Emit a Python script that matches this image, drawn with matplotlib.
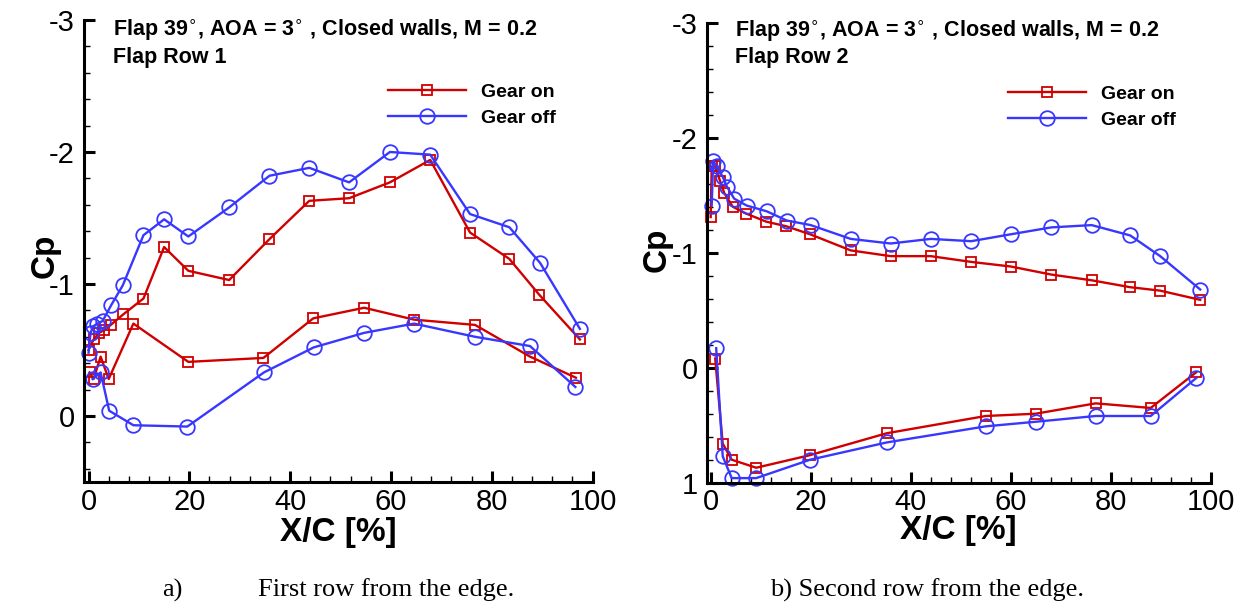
import matplotlib
matplotlib.use("Agg")
import matplotlib.pyplot as plt
from matplotlib.ticker import MultipleLocator

plt.rcParams['font.family'] = ['Liberation Sans', 'DejaVu Sans']
plt.rcParams['axes.unicode_minus'] = False
plt.rcParams['mathtext.fontset'] = 'dejavusans'

# ---------------- Data ----------------
# Panel a) Flap Row 1
r1_on_up_x = [0.0, 1.0, 2.1, 3.1, 4.4, 6.9, 10.9, 15.0, 19.8, 27.9, 35.9, 43.8, 51.7, 59.8, 67.8, 75.7, 83.5, 89.4, 97.5]
r1_on_up_cp = [-0.50, -0.58, -0.63, -0.65, -0.69, -0.77, -0.89, -1.28, -1.10, -1.03, -1.34, -1.63, -1.65, -1.77, -1.94, -1.39, -1.19, -0.92, -0.58]
r1_on_lo_x = [0.2, 1.0, 2.4, 4.0, 8.9, 19.8, 34.7, 44.6, 54.7, 64.6, 76.7, 87.6, 96.7]
r1_on_lo_cp = [-0.33, -0.28, -0.45, -0.28, -0.70, -0.41, -0.44, -0.74, -0.82, -0.73, -0.69, -0.45, -0.29]
r1_off_up_x = [0.0, 0.4, 0.95, 1.75, 2.8, 4.5, 6.8, 10.9, 15.0, 19.8, 27.9, 35.9, 43.8, 51.7, 59.8, 67.8, 75.7, 83.5, 89.6, 97.5]
r1_off_up_cp = [-0.48, -0.63, -0.68, -0.70, -0.72, -0.84, -0.99, -1.37, -1.49, -1.36, -1.58, -1.82, -1.88, -1.77, -2.00, -1.98, -1.53, -1.43, -1.16, -0.66]
r1_off_lo_x = [0.8, 2.4, 4.1, 8.9, 19.6, 34.8, 44.7, 54.7, 64.6, 76.7, 87.6, 96.6]
r1_off_lo_cp = [-0.28, -0.33, -0.04, 0.07, 0.08, -0.33, -0.52, -0.63, -0.70, -0.60, -0.53, -0.22]

# Panel b) Flap Row 2
r2_on_up_x = [0.0, 0.2, 0.9, 1.9, 2.7, 4.4, 7.1, 11.1, 15.1, 19.9, 28.0, 36.0, 44.0, 52.1, 60.0, 68.1, 76.2, 83.9, 89.9, 97.9]
r2_on_up_cp = [-1.31, -1.75, -1.75, -1.62, -1.52, -1.40, -1.34, -1.27, -1.23, -1.16, -1.02, -0.97, -0.97, -0.92, -0.88, -0.81, -0.76, -0.70, -0.67, -0.59]
r2_on_lo_x = [0.9, 2.4, 4.2, 9.1, 19.9, 35.2, 55.0, 65.0, 77.0, 88.0, 97.1]
r2_on_lo_cp = [-0.08, 0.66, 0.80, 0.87, 0.76, 0.57, 0.42, 0.40, 0.31, 0.35, 0.04]
r2_off_up_x = [0.2, 0.5, 1.2, 2.4, 3.3, 4.7, 7.2, 11.2, 15.2, 20.0, 28.0, 36.0, 44.0, 52.1, 60.0, 68.1, 76.2, 83.9, 89.9, 97.9]
r2_off_up_cp = [-1.41, -1.80, -1.75, -1.66, -1.57, -1.47, -1.41, -1.36, -1.28, -1.24, -1.12, -1.08, -1.12, -1.10, -1.16, -1.22, -1.24, -1.15, -0.97, -0.68]
r2_off_lo_x = [1.1, 2.4, 4.2, 9.1, 19.9, 35.2, 55.0, 65.0, 77.0, 88.0, 97.1]
r2_off_lo_cp = [-0.17, 0.77, 0.96, 0.96, 0.80, 0.65, 0.51, 0.47, 0.42, 0.42, 0.09]

series_labels = ["Gear on", "Gear off"]
title_line1 = "Flap 39$^{\\circ}$, AOA = 3$^{\\circ}$ , Closed walls, M = 0.2"
row_labels = ["Flap Row 1", "Flap Row 2"]
x_ticks = [0, 20, 40, 60, 80, 100]
y_ticks_a = [-3, -2, -1, 0]
y_ticks_b = [-3, -2, -1, 0, 1]

RED = '#d00000'
BLUE = '#3737ff'

W, H = 1244, 605
fig = plt.figure(figsize=(W / 100, H / 100), dpi=100)


def px_box(l, t, r, b):
    return [l / W, 1 - b / H, (r - l) / W, (b - t) / H]


def style_axes(ax, xlim, ylim, yticks):
    ax.set_xlim(*xlim)
    ax.set_ylim(*ylim)
    for s in ['top', 'right']:
        ax.spines[s].set_visible(False)
    for s in ['left', 'bottom']:
        ax.spines[s].set_linewidth(2.2)
    ax.set_xticks(x_ticks)
    ax.set_yticks(yticks)
    ax.set_yticklabels([str(v) for v in yticks])
    ax.xaxis.set_minor_locator(MultipleLocator(4))
    ax.yaxis.set_minor_locator(MultipleLocator(0.2))
    ax.tick_params(which='major', direction='in', length=8, width=2.2, labelsize=21)
    ax.tick_params(which='minor', direction='in', length=4, width=1.0)
    ax.tick_params(axis='x', which='major', pad=4)
    ax.tick_params(axis='y', which='major', pad=6.5)


def plot_panel(ax, on_up, on_lo, off_up, off_lo):
    kw_on = dict(color=RED, lw=1.7, marker='s', ms=7.8, mfc='none', mec=RED, mew=1.3, clip_on=False)
    kw_off = dict(color=BLUE, lw=1.7, marker='o', ms=10.5, mfc='none', mec=BLUE, mew=1.3, clip_on=False)
    l_on, = ax.plot(on_up[0], on_up[1], label=series_labels[0], **kw_on)
    ax.plot(on_lo[0], on_lo[1], **kw_on)
    l_off, = ax.plot(off_up[0], off_up[1], label=series_labels[1], **kw_off)
    ax.plot(off_lo[0], off_lo[1], **kw_off)
    return l_on, l_off


ax1 = fig.add_axes(px_box(84, 20, 592.5, 482))
ax2 = fig.add_axes(px_box(706.7, 22.7, 1210.7, 482.7))

h1 = plot_panel(ax1, (r1_on_up_x, r1_on_up_cp), (r1_on_lo_x, r1_on_lo_cp),
                (r1_off_up_x, r1_off_up_cp), (r1_off_lo_x, r1_off_lo_cp))
h2 = plot_panel(ax2, (r2_on_up_x, r2_on_up_cp), (r2_on_lo_x, r2_on_lo_cp),
                (r2_off_up_x, r2_off_up_cp), (r2_off_lo_x, r2_off_lo_cp))

style_axes(ax1, (-0.9, 100), (0.5, -3), y_ticks_a)
style_axes(ax2, (-0.8, 100), (1, -3), y_ticks_b)

for ax, cpx, cpy, xly in [(ax1, -0.077, 0.49, -0.11), (ax2, -0.099, 0.506, -0.104)]:
    ax.set_xlabel("X/C [%]", fontsize=24, fontweight='bold')
    ax.set_ylabel("Cp", fontsize=24, fontweight='bold')
    ax.xaxis.set_label_coords(0.5, xly)
    ax.xaxis.label.set_va('center')
    ax.yaxis.set_label_coords(cpx, cpy)
    ax.yaxis.label.set_va('center')

# Annotations
for (tx, y1, y2, row) in [(113, 30, 57, row_labels[0]), (735, 31, 58, row_labels[1])]:
    fig.text(tx / W, 1 - y1 / H, title_line1, fontsize=15.5, fontweight='bold', ha='left', va='center')
    fig.text(tx / W, 1 - y2 / H, row, fontsize=15.5, fontweight='bold', ha='left', va='center')

# Legends
for ax, handles, lx, ly in [(ax1, h1, 388, 83), (ax2, h2, 1008, 85)]:
    ax.legend(handles=handles, loc='upper left', bbox_to_anchor=(lx / W, 1 - ly / H),
              bbox_transform=fig.transFigure, frameon=False, borderpad=0, borderaxespad=0,
              handlelength=4.0, handletextpad=0.8, labelspacing=0.45,
              prop={'size': 14, 'weight': 'bold'})

# Captions
cap_font = dict(family=['Liberation Serif', 'DejaVu Serif'], fontsize=19, va='center')
fig.text(172 / W, 1 - 590 / H, "a)", ha='center', **cap_font)
fig.text(258 / W, 1 - 590 / H, "First row from the edge.", ha='left', **cap_font)
fig.text(770 / W, 1 - 590 / H, "b) Second row from the edge.", ha='left', **cap_font)

fig.savefig("out.png", dpi=100)
